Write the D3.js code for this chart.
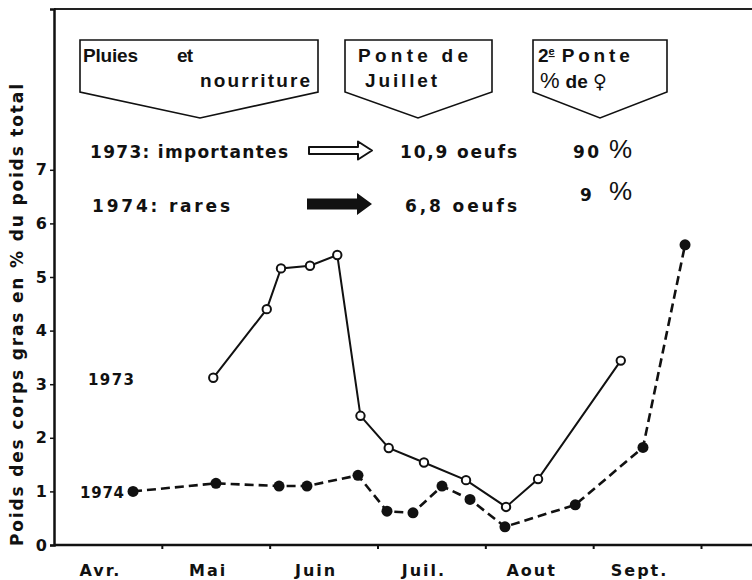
<!DOCTYPE html>
<html><head><meta charset="utf-8">
<script src="https://cdn.jsdelivr.net/npm/d3@7"></script>
<style>body{margin:0;background:#fff} svg{display:block}</style>
</head><body>
<svg id="c" width="752" height="580"></svg>
<script>
// ---- data ----
const monthLabels = ["Avr.","Mai","Juin","Juil.","Aout","Sept."];
const monthTicks = [5,6,7,8,9,10];           // month boundaries (4 = 1 avril)
const yTicks = [0,1,2,3,4,5,6,7];
const t1973 = [5.477,5.973,6.105,6.374,6.627,6.842,7.104,7.431,7.821,8.192,8.489,9.256];
const v1973 = [3.12,4.40,5.16,5.21,5.41,2.41,1.81,1.54,1.21,0.71,1.23,3.44];
const t1974 = [4.733,5.502,6.087,6.346,6.819,7.088,7.329,7.598,7.858,8.182,8.834,9.462,9.852];
const v1974 = [1.00,1.15,1.10,1.10,1.30,0.63,0.60,1.10,0.85,0.34,0.75,1.82,5.60];
const yTitle = "Poids des corps gras en % du poids total";

const FONT = "'DejaVu Sans', 'Liberation Sans', Arial, sans-serif";
const NARROW = "'Liberation Sans Narrow', 'Liberation Sans', Arial, sans-serif";

const svg = d3.select("#c");
const x = d3.scaleLinear().domain([4,10]).range([54,701]);
const y = d3.scaleLinear().domain([0,10]).range([545,9]);

// frame
svg.append("line").attr("x1",x(4)).attr("x2",752).attr("y1",y(0)).attr("y2",y(0))
  .attr("stroke","#111").attr("stroke-width",2.5);
svg.append("line").attr("x1",x(4)).attr("x2",752).attr("y1",y(10)).attr("y2",y(10))
  .attr("stroke","#222").attr("stroke-width",2);

// x axis ticks
const gx = svg.append("g").attr("transform",`translate(0,${y(0)})`)
  .call(d3.axisBottom(x).tickValues(monthTicks).tickSize(4).tickFormat(""));
gx.select(".domain").remove();
gx.selectAll(".tick line").attr("stroke","#111").attr("stroke-width",2);
svg.append("g").selectAll("text").data(monthLabels).join("text")
  .attr("x",(d,i)=>x(4+i+0.43)).attr("y",576)
  .attr("text-anchor","middle").attr("font-family",FONT).attr("font-weight","bold")
  .attr("font-size",16).attr("letter-spacing",2).attr("fill","#111").text(d=>d);

// y axis
const gy = svg.append("g").attr("transform",`translate(${x(4)},0)`)
  .call(d3.axisLeft(y).tickValues(yTicks).tickSize(4).tickPadding(3).tickFormat(d3.format("d")));
gy.select(".domain").attr("stroke","#111").attr("stroke-width",2.5);
gy.selectAll(".tick line").attr("stroke","#111").attr("stroke-width",1.5);
gy.selectAll(".tick text").attr("font-family",FONT).attr("font-weight","bold")
  .attr("font-size",16).attr("fill","#111");

svg.append("text").attr("transform","translate(23,315) rotate(-90)")
  .attr("text-anchor","middle").attr("font-family",FONT).attr("font-weight","bold")
  .attr("font-size",17).attr("fill","#111")
  .attr("textLength",462).attr("lengthAdjust","spacing").text(yTitle);

// header boxes
function box(x0,x1,xp){
  svg.append("path").attr("d",`M${x0},92 L${x0},40 L${x1},40 L${x1},92 L${xp},118 Z`)
    .attr("fill","none").attr("stroke","#111").attr("stroke-width",1.6);
}
box(80,318,200); box(345,492,418); box(533,667,600);
function txt(s,x0,yb,len,opts={}){
  const t = svg.append("text").attr("x",x0).attr("y",yb)
    .attr("font-family",opts.family||NARROW).attr("font-weight","bold")
    .attr("font-size",opts.size||19).attr("fill","#111");
  if(len) t.attr("textLength",len).attr("lengthAdjust","spacing");
  t.text(s);
  return t;
}
txt("Pluies",83,62,55); txt("et",177,62,16);
txt("nourriture",200,87,110);
txt("Ponte de",358,62,110); txt("Juillet",365,87,72);
const t2 = svg.append("text").attr("x",538).attr("y",62).attr("font-family",NARROW)
  .attr("font-weight","bold").attr("font-size",19).attr("fill","#111");
t2.append("tspan").text("2");
t2.append("tspan").attr("font-size",11).attr("dy",-7).attr("text-decoration","underline").text("e");
t2.append("tspan").attr("dy",7).attr("dx",7).attr("textLength",68).attr("lengthAdjust","spacing").text("Ponte");
const t3 = svg.append("text").attr("x",540).attr("y",88).attr("font-family",NARROW)
  .attr("font-weight","bold").attr("font-size",19).attr("fill","#111");
t3.append("tspan").attr("font-weight","normal").attr("font-size",22).text("%");
t3.append("tspan").attr("dx",6).text("de ");
t3.append("tspan").attr("font-family","'DejaVu Sans', sans-serif").attr("font-size",19).text("♀");

// year rows
txt("1973: importantes",90,158,198,{family:FONT,size:17});
txt("1974:   rares",92,212,138,{family:FONT,size:17});
txt("10,9  oeufs",400,158,117,{family:FONT,size:17});
txt("6,8  oeufs",405,212,112,{family:FONT,size:17});
txt("90",573,158,26,{family:FONT,size:17});
txt("9",580,201,null,{family:FONT,size:17});
svg.append("text").attr("x",609).attr("y",158).attr("font-family",NARROW)
  .attr("font-size",26).attr("fill","#111").text("%");
svg.append("text").attr("x",609).attr("y",200).attr("font-family",NARROW)
  .attr("font-size",26).attr("fill","#111").text("%");
// arrows
svg.append("path").attr("d","M309,147 L358,147 L358,141.5 L372,150.5 L358,159.5 L358,154 L309,154 Z")
  .attr("fill","#fff").attr("stroke","#111").attr("stroke-width",2).attr("stroke-linejoin","round");
svg.append("path").attr("d","M307,198.5 L357,198.5 L357,193 L372,204 L357,215 L357,209.5 L307,209.5 Z")
  .attr("fill","#111");

// series
const d73 = t1973.map((t,i)=>({t,v:v1973[i]}));
const d74 = t1974.map((t,i)=>({t,v:v1974[i]}));
const line = d3.line().x(d=>x(d.t)).y(d=>y(d.v));
svg.append("path").datum(d74).attr("d",line).attr("fill","none")
  .attr("stroke","#111").attr("stroke-width",2.6).attr("stroke-dasharray","9,5");
svg.append("path").datum(d73).attr("d",line).attr("fill","none")
  .attr("stroke","#111").attr("stroke-width",2);
svg.append("g").selectAll("circle").data(d74).join("circle")
  .attr("cx",d=>x(d.t)).attr("cy",d=>y(d.v)).attr("r",5.5).attr("fill","#111");
svg.append("g").selectAll("circle").data(d73).join("circle")
  .attr("cx",d=>x(d.t)).attr("cy",d=>y(d.v)).attr("r",4.2).attr("fill","#fff")
  .attr("stroke","#111").attr("stroke-width",2);

// series labels
txt("1973",88,385,46,{family:FONT,size:15});
txt("1974",80,498,44,{family:FONT,size:15});
</script>
</body></html>
